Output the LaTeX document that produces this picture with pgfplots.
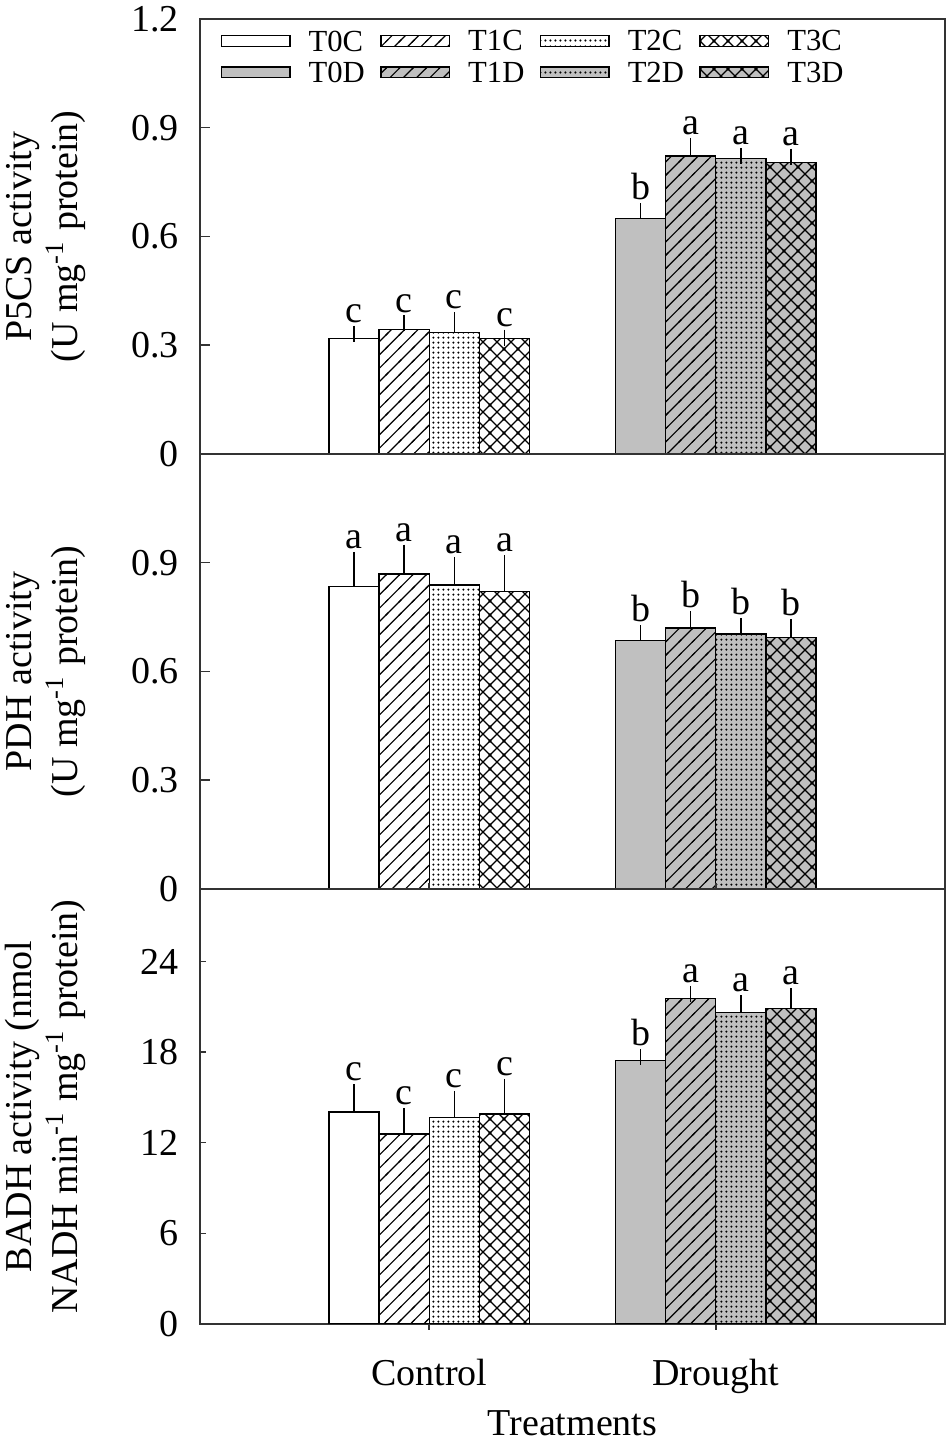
\documentclass[border=0pt]{standalone}
\usepackage{fontspec}
\setmainfont{Liberation Serif}
\usepackage{pgfplots}
\pgfplotsset{compat=1.18}
\usetikzlibrary{patterns}
\definecolor{dgray}{HTML}{C0C0C0}

\pgfdeclarepatternformonly{hatchNE}{\pgfqpoint{-0.5pt}{-0.5pt}}{\pgfqpoint{4.5pt}{4.5pt}}{\pgfqpoint{4pt}{4pt}}{%
  \pgfsetlinewidth{0.35pt}%
  \pgfpathmoveto{\pgfqpoint{-0.5pt}{-0.5pt}}%
  \pgfpathlineto{\pgfqpoint{4.5pt}{4.5pt}}%
  \pgfusepath{stroke}}
\pgfdeclarepatternformonly{hatchX}{\pgfqpoint{-0.5pt}{-0.5pt}}{\pgfqpoint{4.7pt}{4.7pt}}{\pgfqpoint{4.2pt}{4.2pt}}{%
  \pgfsetlinewidth{0.35pt}%
  \pgfpathmoveto{\pgfqpoint{-0.5pt}{-0.5pt}}\pgfpathlineto{\pgfqpoint{4.7pt}{4.7pt}}%
  \pgfpathmoveto{\pgfqpoint{-0.5pt}{4.7pt}}\pgfpathlineto{\pgfqpoint{4.7pt}{-0.5pt}}%
  \pgfusepath{stroke}}
\pgfdeclarepatternformonly{dotsS}{\pgfqpoint{0pt}{0pt}}{\pgfqpoint{1.6pt}{1.6pt}}{\pgfqpoint{1.6pt}{1.6pt}}{%
  \pgfpathcircle{\pgfqpoint{0.8pt}{0.8pt}}{0.38pt}%
  \pgfusepath{fill}}

\newcommand{\tfont}{\fontsize{11.4}{13.7}\selectfont}
\newcommand{\lfont}{\fontsize{9.2}{10.5}\selectfont}
\newcommand{\lab}[3]{\node[anchor=base, yshift=3.4pt, font=\tfont, inner sep=0pt] at (axis cs:#1,#2) {#3};}

\pgfplotsset{
  barbase/.style={ybar, bar width=0.175, bar shift=0pt, draw=black, line width=0.4pt,
    error bars/y dir=plus, error bars/y explicit,
    error bars/error bar style={line width=0.4pt, black},
    error bars/error mark options={line width=0.4pt, black, mark size=2.4pt},
    legend image code/.code={\draw[##1] (0pt,-0.9pt) rectangle (20.6pt,2.3pt);}},
  bC0/.style={barbase, fill=white},
  bC1/.style={barbase, fill=white, postaction={pattern=hatchNE}},
  bC2/.style={barbase, fill=white, postaction={pattern=dotsS}},
  bC3/.style={barbase, fill=white, postaction={pattern=hatchX}},
  bD0/.style={barbase, fill=dgray},
  bD1/.style={barbase, fill=dgray, postaction={pattern=hatchNE}},
  bD2/.style={barbase, fill=dgray, postaction={pattern=dotsS}},
  bD3/.style={barbase, fill=dgray, postaction={pattern=hatchX}},
  panel/.style={
    width=223.5pt, height=130.5pt, scale only axis,
    xmin=0.2, xmax=2.8, ymin=0,
    axis line style={black!80, line width=0.45pt},
    tick style={black!80, line width=0.45pt},
    ytick pos=left, tick align=inside, major tick length=3pt,
    xtick=\empty,
    tick label style={font=\tfont},
    yticklabel style={xshift=-2.8pt},
    /pgf/number format/assume math mode=true,
    every axis y label/.style={at={(axis description cs:-0.138,0.5)}, rotate=90, anchor=south, align=center, font=\tfont},
    every axis x label/.style={at={(axis description cs:0.5,0)}, anchor=base, yshift=-33.3pt, font=\tfont},
  },
}

\begin{document}
\begin{tikzpicture}
\useasboundingbox (-60pt,-35.1pt) rectangle (225pt,397.2pt);

% ---------- top panel: P5CS ----------
\begin{axis}[panel, at={(0,261pt)}, anchor=south west,
  ymax=1.2, ytick={0,0.3,0.6,0.9,1.2},
  ylabel={P5CS activity\\(U mg\textsuperscript{-1} protein)},
  legend columns=4, legend cell align=left,
  legend style={draw=none, fill=none, at={(axis description cs:0,1)}, anchor=north west,
    xshift=6.2pt, yshift=-3.5pt, inner sep=0pt, outer sep=0pt, font=\lfont,
    row sep=1.8pt, column sep=5.4pt, nodes={inner sep=0pt},
    /tikz/every even column/.append style={column sep=4.6pt}},
]
\addplot[bC0] coordinates {(0.7375,0.319) +- (0,0.013)};
\addplot[bC1] coordinates {(0.9125,0.343) +- (0,0.017)};
\addplot[bC2] coordinates {(1.0875,0.335) +- (0,0.034)};
\addplot[bC3] coordinates {(1.2625,0.318) +- (0,0.003)};
\addplot[bD0] coordinates {(1.7375,0.650) +- (0,0.020)};
\addplot[bD1] coordinates {(1.9125,0.822) +- (0,0.028)};
\addplot[bD2] coordinates {(2.0875,0.815) +- (0,0.007)};
\addplot[bD3] coordinates {(2.2625,0.804) +- (0,0.016)};
\legend{T0C,T1C,T2C,T3C,T0D,T1D,T2D,T3D}
\lab{0.7375}{0.332}{c}
\lab{0.9125}{0.360}{c}
\lab{1.0875}{0.369}{c}
\lab{1.2625}{0.321}{c}
\lab{1.7375}{0.670}{b}
\lab{1.9125}{0.850}{a}
\lab{2.0875}{0.822}{a}
\lab{2.2625}{0.820}{a}
\end{axis}

% ---------- middle panel: PDH ----------
\begin{axis}[panel, at={(0,130.5pt)}, anchor=south west,
  ymax=1.2, ytick={0,0.3,0.6,0.9},
  ylabel={PDH activity\\(U mg\textsuperscript{-1} protein)},
]
\addplot[bC0] coordinates {(0.7375,0.835) +- (0,0.073)};
\addplot[bC1] coordinates {(0.9125,0.869) +- (0,0.059)};
\addplot[bC2] coordinates {(1.0875,0.839) +- (0,0.055)};
\addplot[bC3] coordinates {(1.2625,0.821) +- (0,0.078)};
\addplot[bD0] coordinates {(1.7375,0.685) +- (0,0.021)};
\addplot[bD1] coordinates {(1.9125,0.720) +- (0,0.024)};
\addplot[bD2] coordinates {(2.0875,0.703) +- (0,0.023)};
\addplot[bD3] coordinates {(2.2625,0.694) +- (0,0.029)};
\lab{0.7375}{0.908}{a}
\lab{0.9125}{0.928}{a}
\lab{1.0875}{0.894}{a}
\lab{1.2625}{0.899}{a}
\lab{1.7375}{0.706}{b}
\lab{1.9125}{0.744}{b}
\lab{2.0875}{0.726}{b}
\lab{2.2625}{0.723}{b}
\end{axis}

% ---------- bottom panel: BADH ----------
\begin{axis}[panel, at={(0,0)}, anchor=south west,
  ymax=28.8, ytick={0,6,12,18,24},
  xtick={1,2}, xticklabels={Control,Drought},
  xtick align=outside, major tick length=1.8pt,
  xticklabel style={anchor=base, yshift=-16.5pt},
  xlabel={Treatments},
  ylabel={BADH activity (nmol\\NADH min\textsuperscript{-1} mg\textsuperscript{-1} protein)},
]
\addplot[bC0] coordinates {(0.7375,14.04) +- (0,1.30)};
\addplot[bC1] coordinates {(0.9125,12.57) +- (0,1.19)};
\addplot[bC2] coordinates {(1.0875,13.65) +- (0,1.25)};
\addplot[bC3] coordinates {(1.2625,13.90) +- (0,1.80)};
\addplot[bD0] coordinates {(1.7375,17.45) +- (0,0.22)};
\addplot[bD1] coordinates {(1.9125,21.57) +- (0,0.29)};
\addplot[bD2] coordinates {(2.0875,20.63) +- (0,0.61)};
\addplot[bD3] coordinates {(2.2625,20.87) +- (0,0.84)};
\lab{0.7375}{15.34}{c}
\lab{0.9125}{13.76}{c}
\lab{1.0875}{14.90}{c}
\lab{1.2625}{15.70}{c}
\lab{1.7375}{17.67}{b}
\lab{1.9125}{21.86}{a}
\lab{2.0875}{21.24}{a}
\lab{2.2625}{21.71}{a}
\end{axis}
\end{tikzpicture}
\end{document}
